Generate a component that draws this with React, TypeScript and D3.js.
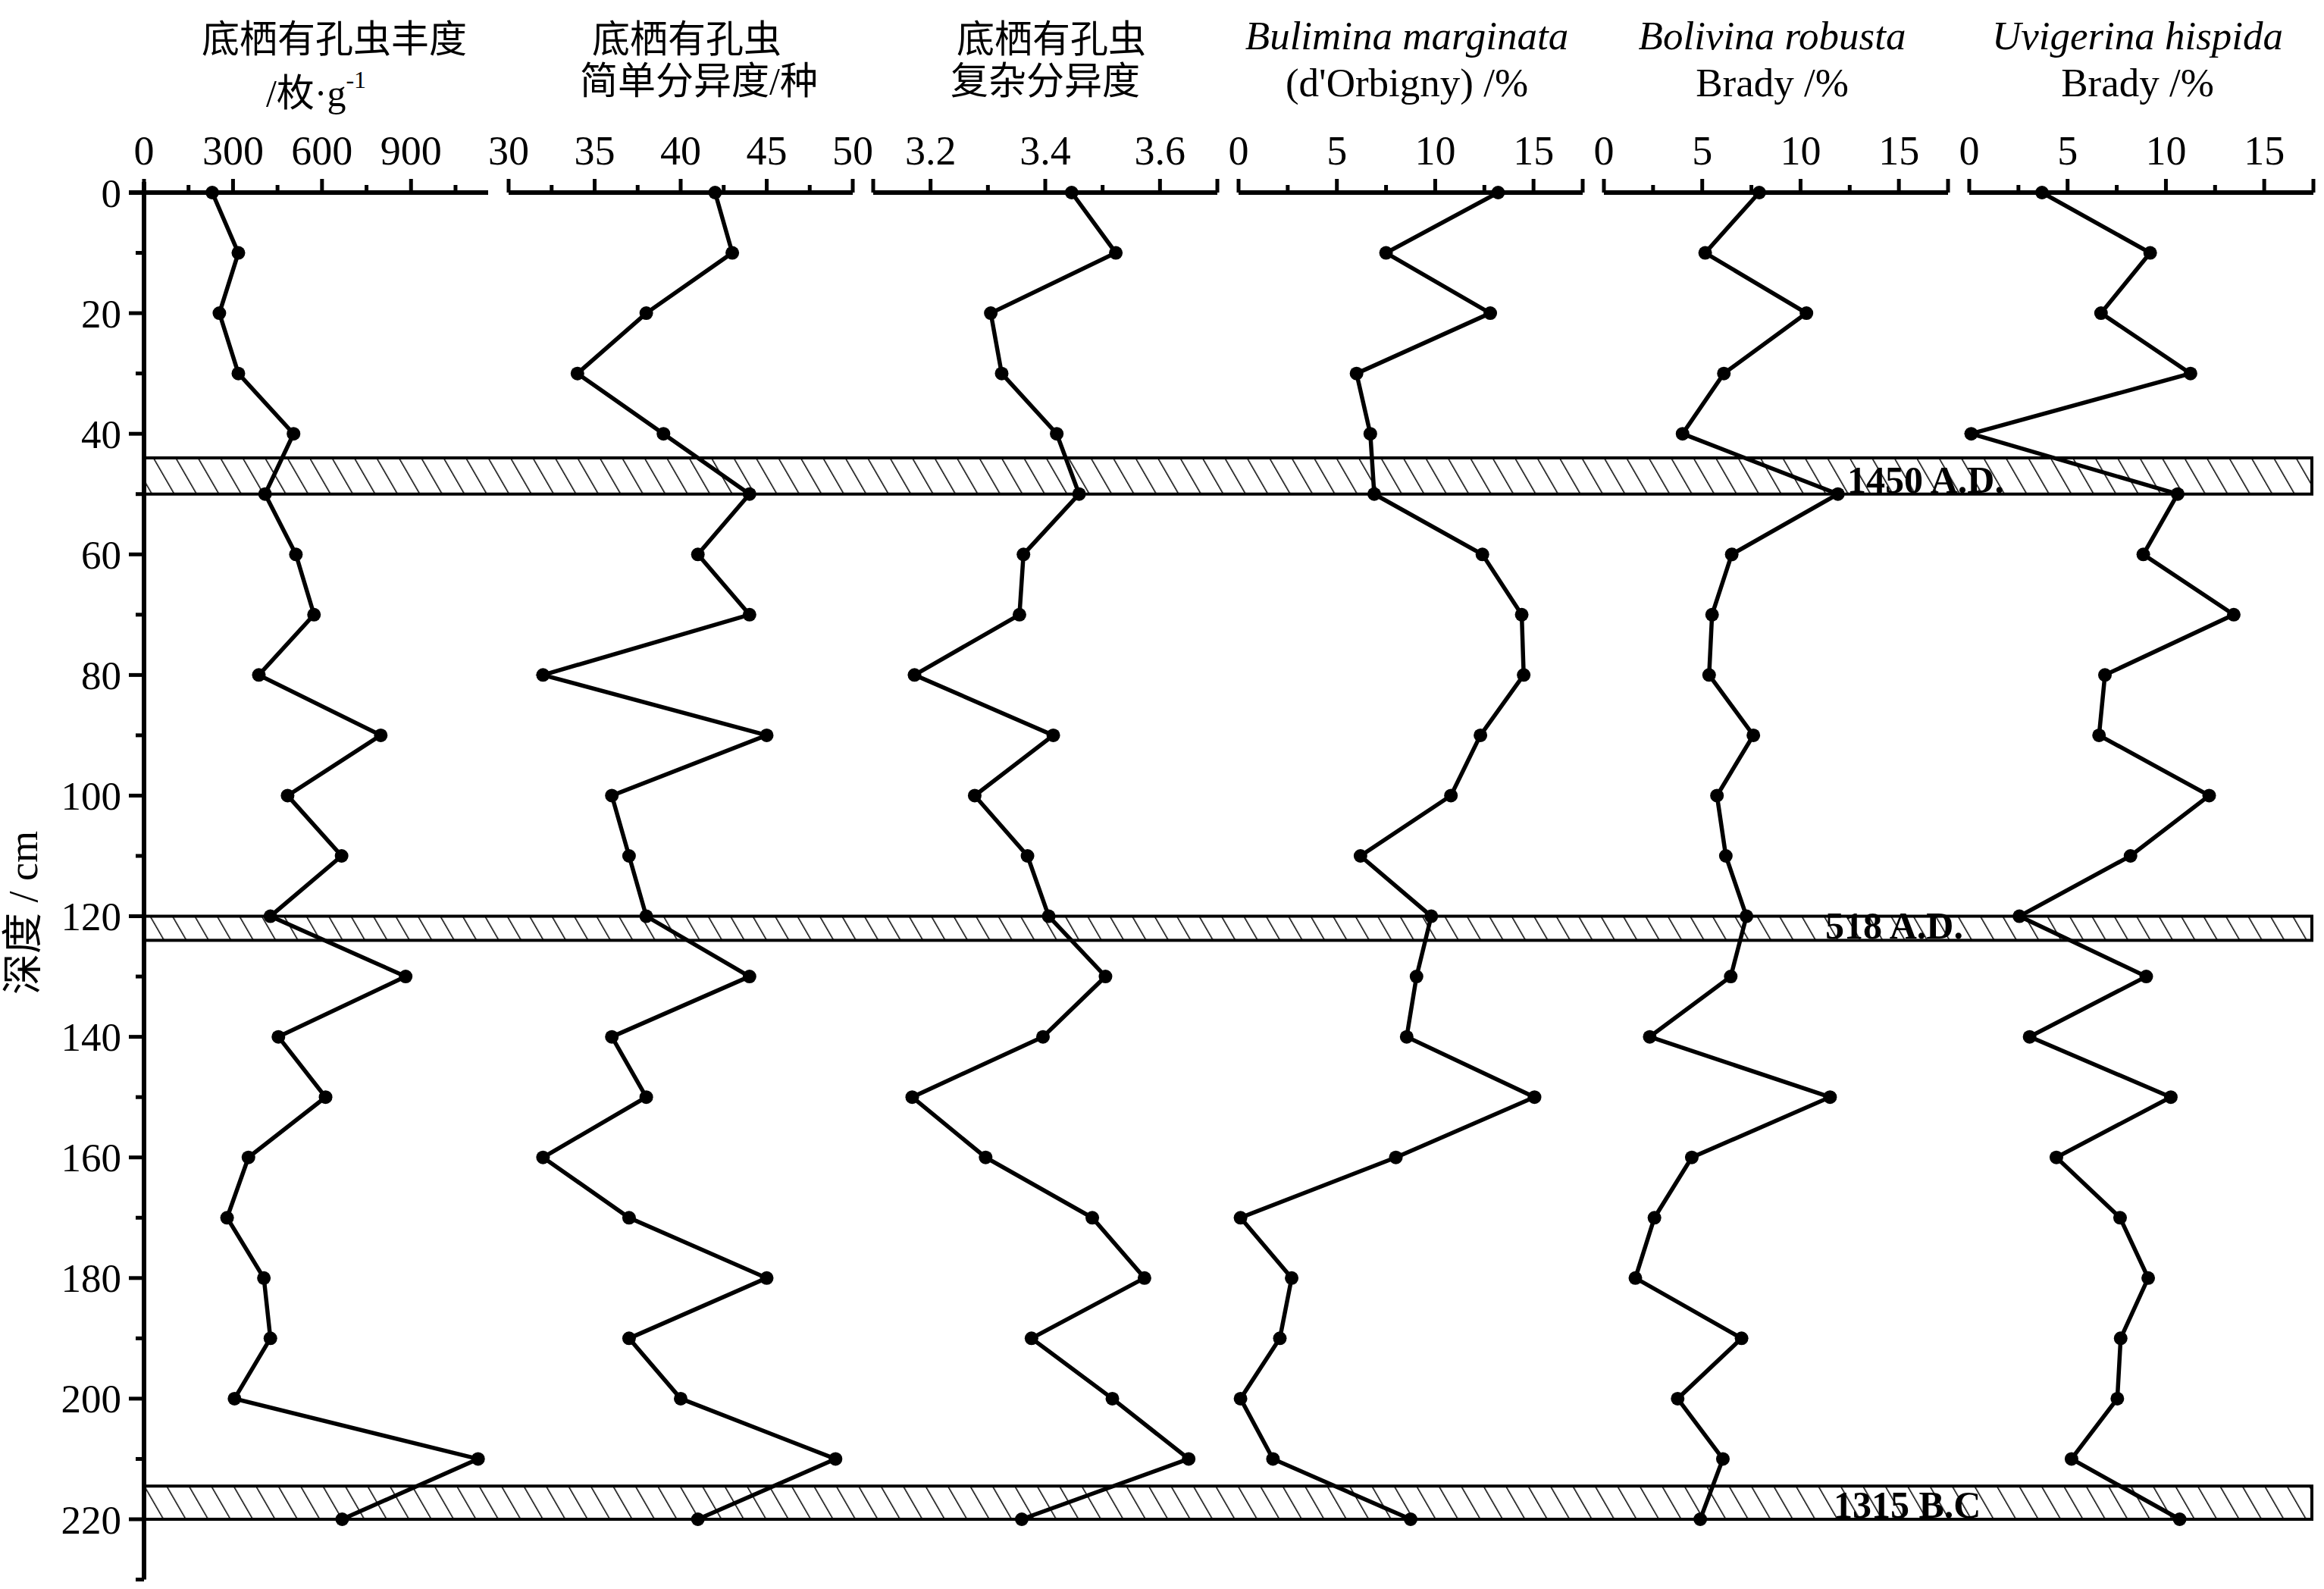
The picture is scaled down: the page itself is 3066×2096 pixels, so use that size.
import React from "react";
import * as d3 from "d3";

// depth of each sample, cm
const depths = [0, 10, 20, 30, 40, 50, 60, 70, 80, 90, 100, 110, 120, 130, 140, 150, 160, 170, 180, 190, 200, 210, 220];

// benthic foram abundance, per gram
const abundance = [230, 318, 254, 318, 504, 408, 512, 573, 387, 798, 484, 666, 426, 882, 453, 612, 352, 280, 404, 426, 305, 1126, 668];
// simple diversity (species)
const simpleDiv = [42, 43, 38, 34, 39, 44, 41, 44, 32, 45, 36, 37, 38, 44, 36, 38, 32, 37, 45, 37, 40, 49, 41];
// complex diversity
const complexDiv = [3.446, 3.523, 3.305, 3.324, 3.42, 3.459, 3.362, 3.355, 3.172, 3.414, 3.277, 3.369, 3.406, 3.505, 3.396, 3.168, 3.296, 3.482, 3.573, 3.376, 3.517, 3.65, 3.359];
// Bulimina marginata %
const bulimina = [13.2, 7.5, 12.8, 6.0, 6.7, 6.9, 12.4, 14.4, 14.5, 12.3, 10.8, 6.2, 9.8, 9.05, 8.55, 15.05, 8.0, 0.1, 2.7, 2.1, 0.1, 1.75, 8.75];
// Bolivina robusta %
const bolivina = [7.9, 5.15, 10.3, 6.1, 4.0, 11.9, 6.5, 5.5, 5.35, 7.6, 5.75, 6.2, 7.25, 6.45, 2.33, 11.5, 4.47, 2.57, 1.6, 7.0, 3.75, 6.05, 4.9];
// Uvigerina hispida %
const uvigerina = [3.7, 9.2, 6.7, 11.25, 0.1, 10.6, 8.85, 13.45, 6.9, 6.6, 12.2, 8.2, 2.55, 9.0, 3.07, 10.25, 4.43, 7.67, 9.1, 7.7, 7.53, 5.2, 10.7];

// panel headers
const titleLine1 = ["底栖有孔虫丰度", "底栖有孔虫", "底栖有孔虫", "Bulimina marginata", "Bolivina robusta", "Uvigerina hispida"];
const titleLine2 = ["/枚·g", "简单分异度/种", "复杂分异度", "(d'Orbigny) /%", "Brady /%", "Brady /%"];

// axis domains and tick values
const domains = [[0, 1160], [30, 50], [3.1, 3.7], [0, 17.5], [0, 17.5], [0, 17.5]];
const majorTicks = [[0, 300, 600, 900], [30, 35, 40, 45, 50], [3.1, 3.2, 3.4, 3.6, 3.7], [0, 5, 10, 15, 17.5], [0, 5, 10, 15, 17.5], [0, 5, 10, 15, 17.5]];
const minorTicks = [[150, 450, 750, 1050], [32.5, 37.5, 42.5, 47.5], [3.3, 3.5], [2.5, 7.5, 12.5], [2.5, 7.5, 12.5], [2.5, 7.5, 12.5]];
const tickLabels = [[0, 300, 600, 900], [30, 35, 40, 45, 50], [3.2, 3.4, 3.6], [0, 5, 10, 15], [0, 5, 10, 15], [0, 5, 10, 15]];

// dated layers
const bandTop = [44, 120, 214.5];
const bandBottom = [50, 124, 220];
const bandLabels = ["1450 A.D.", "518 A.D.", "1315 B.C"];

const series = [abundance, simpleDiv, complexDiv, bulimina, bolivina, uvigerina];

const W = 3066;
const H = 2096;
const AXIS_X = 190;
const TOP_Y = 254;
const PANEL_X = [190, 671, 1152, 1634, 2116, 2598];
const PANEL_W = 454;
const RIGHT_X = 3050;

const SERIF = "'Liberation Serif', 'Times New Roman', serif";
const MIXED = "'Liberation Serif', 'Noto Sans CJK SC', serif";

const App = () => {
  const y = d3.scaleLinear().domain([0, 220]).range([TOP_Y, TOP_Y + 1750]);
  const xs = domains.map((dom, i) =>
    d3.scaleLinear().domain(dom).range([PANEL_X[i], PANEL_X[i] + PANEL_W])
  );
  const yMajor = d3.range(0, 221, 20);
  const yMinor = d3.range(10, 231, 20);

  return (
    <svg width={W} height={H} style={{ position: "absolute", left: 0, top: 0, background: "#fff" }}>
      <defs>
        <pattern id="hatch" patternUnits="userSpaceOnUse" width={25.5} height={40} patternTransform="rotate(-30)">
          <line x1={0} y1={-5} x2={0} y2={45} stroke="#000" strokeWidth={3} />
        </pattern>
      </defs>

      {/* dated bands */}
      {bandTop.map((t, i) => (
        <g key={"band" + i}>
          <rect x={AXIS_X} y={y(t)} width={RIGHT_X - AXIS_X} height={y(bandBottom[i]) - y(t)} fill="#fff" />
          <rect x={AXIS_X} y={y(t)} width={RIGHT_X - AXIS_X} height={y(bandBottom[i]) - y(t)} fill="url(#hatch)" stroke="#000" strokeWidth={4} />
        </g>
      ))}

      {/* y axis */}
      <line x1={AXIS_X} x2={AXIS_X} y1={240} y2={y(230)} stroke="#000" strokeWidth={6} />
      {yMajor.map((d) => (
        <g key={"ym" + d}>
          <line x1={AXIS_X - 20} x2={AXIS_X} y1={y(d)} y2={y(d)} stroke="#000" strokeWidth={5} />
          <text x={160} y={y(d)} dy="0.35em" textAnchor="end" fontFamily={SERIF} fontSize={53}>{d}</text>
        </g>
      ))}
      {yMinor.map((d) => (
        <line key={"yn" + d} x1={AXIS_X - 11} x2={AXIS_X} y1={y(d)} y2={y(d)} stroke="#000" strokeWidth={5} />
      ))}
      <text transform={`translate(30,${1204}) rotate(-90)`} textAnchor="middle" dy="0.35em" fontFamily={MIXED} fontSize={54}>深度 / cm</text>

      {/* panels */}
      {series.map((vals, i) => {
        const x = xs[i];
        const line = d3.line<number>().x((v) => x(v)).y((_, k) => y(depths[k]));
        const cx = PANEL_X[i] + PANEL_W / 2;
        return (
          <g key={"p" + i}>
            <line x1={i === 0 ? AXIS_X - 20 : PANEL_X[i]} x2={PANEL_X[i] + PANEL_W} y1={TOP_Y} y2={TOP_Y} stroke="#000" strokeWidth={6} />
            {majorTicks[i].map((t) => (
              <line key={"M" + t} x1={x(t)} x2={x(t)} y1={TOP_Y - 18} y2={TOP_Y} stroke="#000" strokeWidth={5} />
            ))}
            {minorTicks[i].map((t) => (
              <line key={"m" + t} x1={x(t)} x2={x(t)} y1={TOP_Y - 10} y2={TOP_Y} stroke="#000" strokeWidth={5} />
            ))}
            {tickLabels[i].map((t) => (
              <text key={"l" + t} x={x(t)} y={217} textAnchor="middle" fontFamily={SERIF} fontSize={54}>{t}</text>
            ))}
            {i < 3 ? (
              <>
                <text x={cx + (i === 0 ? 24 : 8)} y={69} textAnchor="middle" fontFamily={MIXED} fontSize={50}>{titleLine1[i]}</text>
                <text x={cx + (i === 0 ? 0 : i === 1 ? 24 : 0)} y={i === 0 ? 140 : 124} textAnchor="middle" fontFamily={MIXED} fontSize={50}>
                  {titleLine2[i]}
                  {i === 0 ? <tspan fontSize={32} dy={-24} fill="#000">-1</tspan> : null}
                </text>
              </>
            ) : (
              <>
                <text x={cx - 5} y={65} textAnchor="middle" fontFamily={SERIF} fontStyle="italic" fontSize={53}>{titleLine1[i]}</text>
                <text x={cx - 5} y={127} textAnchor="middle" fontFamily={SERIF} fontSize={53}>{titleLine2[i]}</text>
              </>
            )}
            <path d={line(vals) || ""} fill="none" stroke="#000" strokeWidth={5.5} />
            {vals.map((v, k) => (
              <circle key={"c" + k} cx={x(v)} cy={y(depths[k])} r={9} fill="#000" />
            ))}
          </g>
        );
      })}

      {/* band labels */}
      {bandLabels.map((s, i) => (
        <text key={"bl" + i} x={[2437, 2408, 2419][i]} y={y(bandBottom[i]) - 2} fontFamily={SERIF} fontWeight="bold" fontSize={50}>{s}</text>
      ))}
    </svg>
  );
};

export default App;
